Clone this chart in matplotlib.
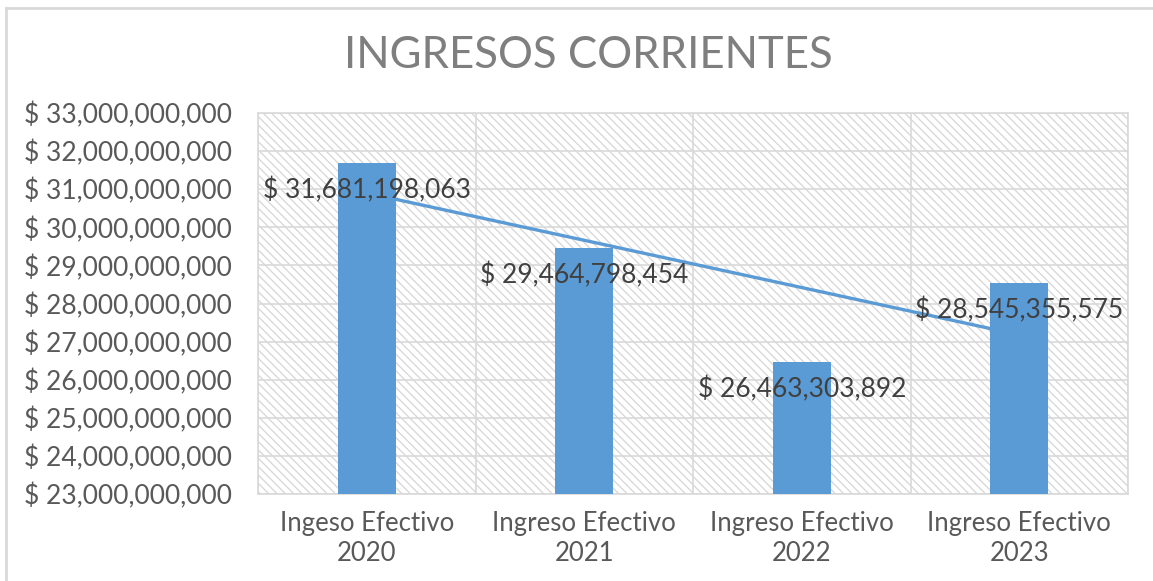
import numpy as np
import matplotlib
matplotlib.use("Agg")
import matplotlib.pyplot as plt
from matplotlib.patches import Rectangle
from matplotlib.lines import Line2D
from matplotlib.ticker import FuncFormatter, MultipleLocator

categories = ["Ingeso Efectivo\n2020", "Ingreso Efectivo\n2021",
              "Ingreso Efectivo\n2022", "Ingreso Efectivo\n2023"]
values = [31681198063, 29464798454, 26463303892, 28545355575]
title = "INGRESOS CORRIENTES"
y_min, y_max, y_step = 23e9, 33e9, 1e9

plt.rcParams['font.family'] = ['Lato', 'DejaVu Sans']
plt.rcParams['hatch.linewidth'] = 0.9

W, H = 1153, 581
fig = plt.figure(figsize=(W / 100, H / 100), dpi=100)
ax = fig.add_axes([258 / W, 1 - 494 / H, (1128 - 258) / W, (494 - 113) / H])

blue = "#5B9BD5"
grid = "#d9d9d9"
x = np.arange(len(values))

# hatched background
bg = Rectangle((0, 0), 1, 1, transform=ax.transAxes, facecolor="white",
               edgecolor="#d6d6d6", hatch="\\\\\\\\", linewidth=0, zorder=0)
ax.add_patch(bg)
ax.set_facecolor("white")

ax.set_ylim(y_min, y_max)
ax.set_xlim(-0.5, len(values) - 0.5)
ax.yaxis.set_major_locator(MultipleLocator(y_step))
for yv in np.arange(y_min, y_max + 1, y_step):
    ax.axhline(yv, color=grid, lw=1.2, zorder=1)
for xv in np.arange(-0.5, len(values), 1):
    ax.axvline(xv, color=grid, lw=1.2, zorder=1)

# trendline (linear fit) behind bars
coef = np.polyfit(x, values, 1)
ax.plot(x, np.polyval(coef, x), color=blue, lw=2.4, zorder=2)

ax.bar(x, values, width=0.267, color=blue, zorder=3)

for xi, v in zip(x, values):
    ax.annotate(f"$ {v:,.0f}", (xi, v), xytext=(0, -19.5), textcoords="offset points",
                ha="center", va="center", fontsize=19, color="#404040", zorder=4)

ax.yaxis.set_major_formatter(FuncFormatter(lambda v, p: f"$ {v:,.0f}"))
ax.set_xticks(x)
ax.set_xticklabels(categories, fontsize=18.5, color="#595959", linespacing=1.27)
ax.tick_params(axis="y", length=0, pad=19, labelsize=19, labelcolor="#595959")
ax.tick_params(axis="x", length=0, pad=12)
for s in ax.spines.values():
    s.set_color(grid)
    s.set_linewidth(1.2)

fig.text(588 / W, 1 - 56 / H, title, ha="center", va="center", fontsize=31.5,
         color="#7f7f7f")

# outer chart border (left and top)
fig.add_artist(Line2D([6 / W, 6 / W], [0, 1 - 8 / H], transform=fig.transFigure,
                      color=grid, lw=2))
fig.add_artist(Line2D([6 / W, 1], [1 - 8 / H, 1 - 8 / H], transform=fig.transFigure,
                      color=grid, lw=2))

fig.savefig("out.png", dpi=100)
